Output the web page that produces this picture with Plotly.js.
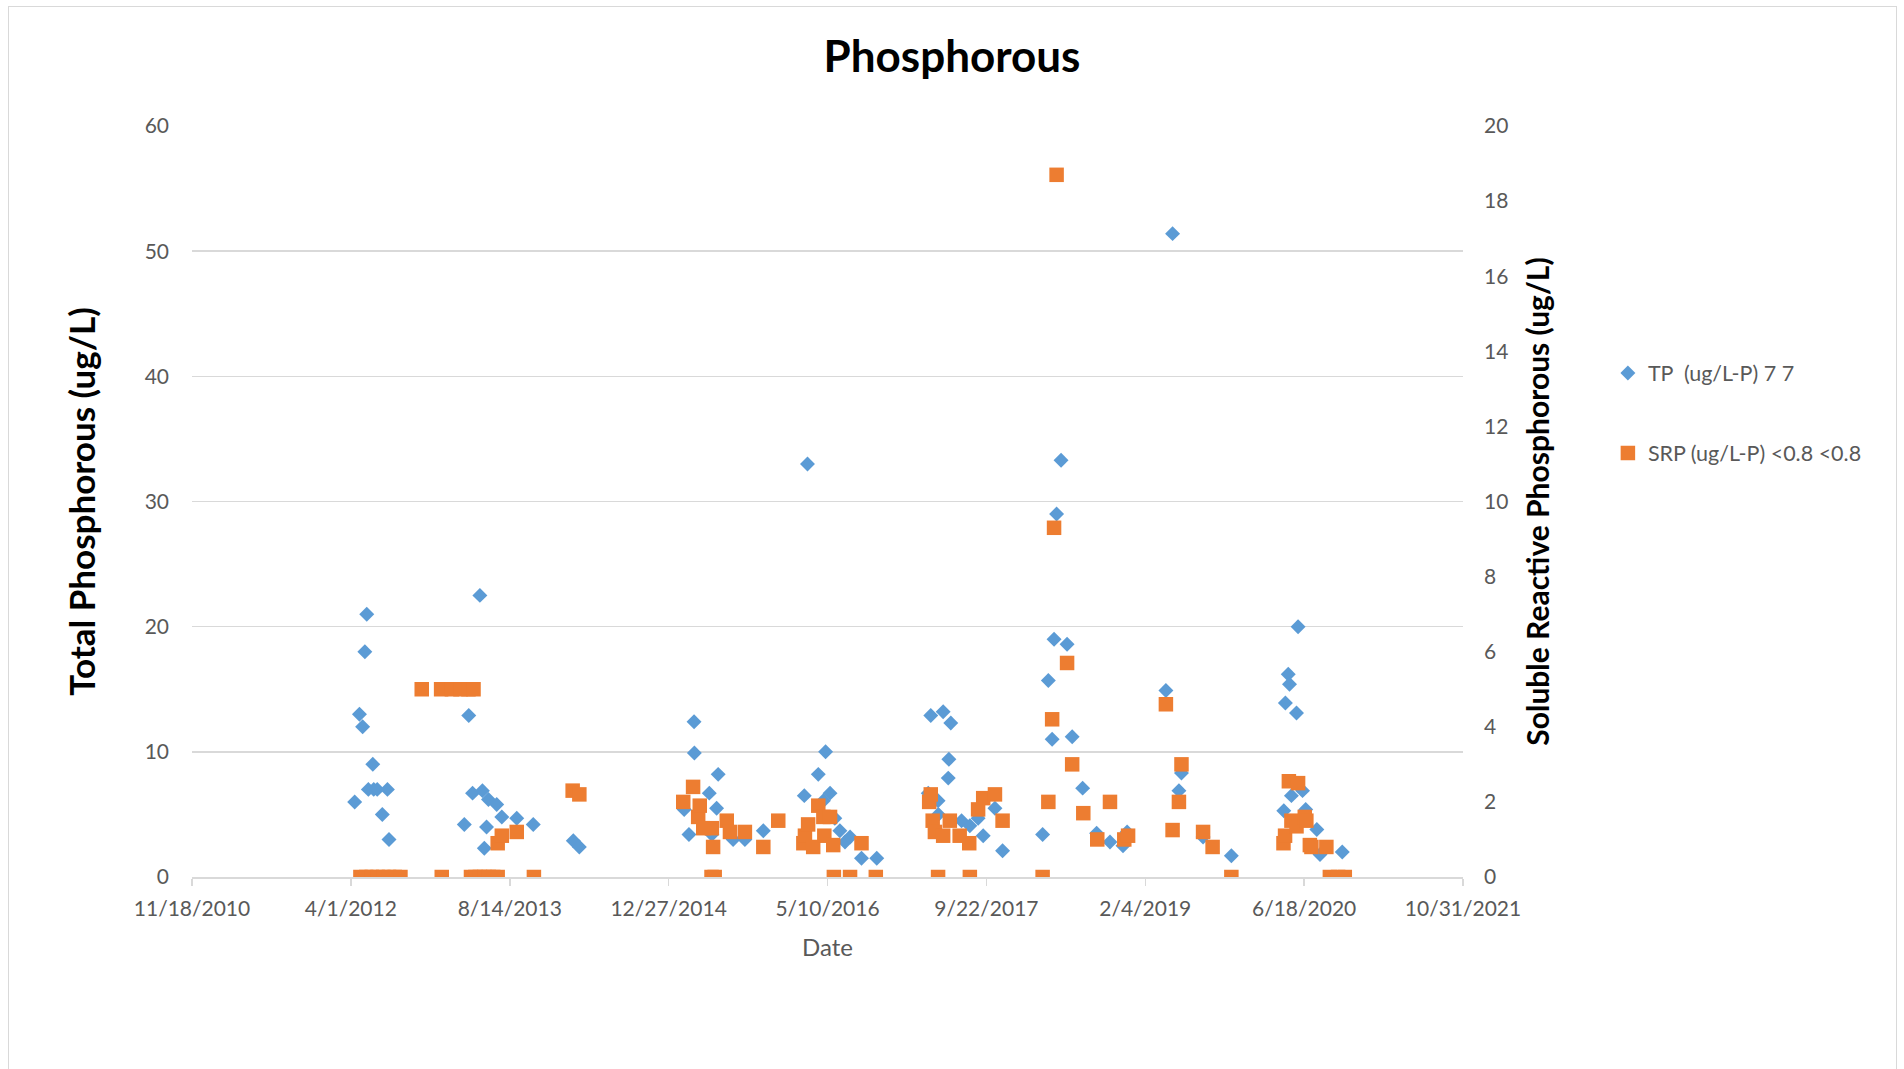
<!DOCTYPE html>
<html>
<head>
<meta charset="utf-8">
<script src="https://cdn.plot.ly/plotly-3.0.1.min.js"></script>
<style>
  html, body { margin: 0; padding: 0; background: #ffffff; }
  #chart { width: 1904px; height: 1069px; }
  #frame { position: absolute; left: 8px; top: 6px; width: 1887px; height: 1080px;
           border: 1px solid #D9D9D9; pointer-events: none; }
</style>
</head>
<body>
<div id="chart"></div>
<div id="frame"></div>
<script>
// Dates are Excel date serial numbers (as on the original Excel chart's date axis)
const tickVals = [40500, 41000, 41500, 42000, 42500, 43000, 43500, 44000, 44500];
const tickLabels = ["11/18/2010", "4/1/2012", "8/14/2013", "12/27/2014", "5/10/2016",
                    "9/22/2017", "2/4/2019", "6/18/2020", "10/31/2021"];
const leftTicks = [0, 10, 20, 30, 40, 50, 60];
const rightTicks = [0, 2, 4, 6, 8, 10, 12, 14, 16, 18, 20];

// Total Phosphorous (ug/L) — left axis
const tpDates = [
  41012, 41027, 41037, 41044, 41050, 41055, 41069, 41072, 41083, 41099, 41115, 41120,
  41357, 41371, 41383, 41406, 41414, 41420, 41427, 41433, 41459, 41475, 41522, 41574, 41700, 41719,
  42049, 42064, 42080, 42081, 42128, 42136, 42151, 42156, 42203, 42240, 42298,
  42427, 42437, 42471, 42487, 42494, 42508, 42523, 42539, 42555, 42571, 42607, 42655,
  42817, 42825, 42848, 42849, 42864, 42880, 42882, 42888, 42922, 42948, 42974, 42990, 43027, 43051,
  43177, 43195, 43207, 43213, 43221, 43235, 43254, 43270, 43303, 43347, 43389, 43430, 43443,
  43565, 43586, 43606, 43614, 43682, 43771,
  43936, 43941, 43950, 43954, 43960, 43976, 43981, 43995, 44005, 44040, 44050, 44120
];
const tpValues = [
  6.0, 13.0, 12.0, 18.0, 21.0, 7.0, 9.0, 7.0, 7.0, 5.0, 7.0, 3.0,
  4.2, 12.9, 6.7, 22.5, 6.9, 2.3, 4.0, 6.2, 5.8, 4.8, 4.7, 4.2, 2.9, 2.4,
  5.4, 3.4, 12.4, 9.9, 6.7, 3.4, 5.5, 8.2, 3.0, 3.0, 3.7,
  6.5, 33.0, 8.2, 6.1, 10.0, 6.7, 4.7, 3.7, 2.8, 3.2, 1.5, 1.5,
  6.7, 12.9, 6.1, 5.0, 13.2, 7.9, 9.4, 12.3, 4.5, 4.1, 4.7, 3.3, 5.5, 2.1,
  3.4, 15.7, 11.0, 19.0, 29.0, 33.3, 18.6, 11.2, 7.1, 3.5, 2.8, 2.5, 3.6,
  14.9, 51.4, 6.9, 8.3, 3.2, 1.7,
  5.3, 13.9, 16.2, 15.4, 6.5, 13.1, 20.0, 6.9, 5.4, 3.8, 1.8, 2.0
];

// Soluble Reactive Phosphorous (ug/L) — right axis
const srpDates = [
  41030, 41048, 41066, 41084, 41102, 41120, 41138, 41156,
  41223, 41284, 41286, 41318, 41345, 41370, 41386,
  41378, 41392, 41406, 41420, 41434, 41448, 41462,
  41462, 41475, 41522, 41576, 41698, 41719,
  42046, 42077, 42093, 42098, 42109, 42136, 42140, 42135, 42145, 42183, 42193, 42240, 42298, 42345,
  42424, 42429, 42439, 42455, 42471, 42487, 42490, 42508, 42518, 42520, 42571, 42607, 42652,
  42820, 42825, 42831, 42838, 42848, 42864, 42885, 42916, 42946, 42948, 42974, 42990, 43027, 43051,
  43177, 43195, 43207, 43213, 43221, 43254, 43270, 43305, 43349, 43389, 43434, 43446,
  43565, 43586, 43606, 43614, 43682, 43712, 43771,
  43935, 43940, 43952, 43960, 43976, 43981, 44002, 44007, 44018, 44023, 44070, 44081, 44107, 44128
];
const srpValues = [
  0, 0, 0, 0, 0, 0, 0, 0,
  5.0, 5.0, 0, 5.0, 5.0, 5.0, 5.0,
  0, 0, 0, 0, 0, 0, 0,
  0.9, 1.1, 1.2, 0, 2.3, 2.2,
  2.0, 2.4, 1.6, 1.9, 1.3, 1.3, 0.8, 0, 0, 1.5, 1.2, 1.2, 0.8, 1.5,
  0.9, 1.1, 1.4, 0.8, 1.9, 1.6, 1.1, 1.6, 0.85, 0, 0, 0.9, 0,
  2.0, 2.2, 1.5, 1.2, 0, 1.1, 1.5, 1.1, 0.9, 0, 1.8, 2.1, 2.2, 1.5,
  0, 2.0, 4.2, 9.3, 18.7, 5.7, 3.0, 1.7, 1.0, 2.0, 1.0, 1.1,
  4.6, 1.25, 2.0, 3.0, 1.2, 0.8, 0,
  0.9, 1.1, 2.55, 1.5, 1.35, 2.5, 1.6, 1.5, 0.85, 0.8, 0.8, 0, 0, 0
];

const FONT = "Lato, 'Open Sans', sans-serif";
const GRAY = "#595959";

const traces = [
  {
    x: tpDates, y: tpValues, type: "scatter", mode: "markers",
    name: "TP \u00A0(ug/L-P) 7 7",
    marker: { symbol: "diamond", size: 11.5, color: "#5B9BD5" },
    yaxis: "y", legend: "legend"
  },
  {
    x: srpDates, y: srpValues, type: "scatter", mode: "markers",
    name: "SRP (ug/L-P) <0.8 <0.8",
    marker: { symbol: "square", size: 14.5, color: "#ED7D31" },
    yaxis: "y2", legend: "legend2"
  }
];

const layout = {
  width: 1904, height: 1069,
  margin: { l: 192, r: 441, t: 126, b: 192 },
  paper_bgcolor: "#ffffff", plot_bgcolor: "#ffffff",
  font: { family: FONT, color: GRAY, size: 21 },
  title: {
    text: "<b>Phosphorous</b>",
    font: { family: FONT, size: 44, color: "#000000" },
    x: 0.5, xref: "container", xanchor: "center",
    y: 1 - 57 / 1069, yref: "container", yanchor: "middle"
  },
  xaxis: {
    range: [40500, 44500],
    tickmode: "array", tickvals: tickVals, ticktext: tickLabels,
    showgrid: false, zeroline: false,
    showline: true, linecolor: "#D9D9D9", linewidth: 1.5,
    ticks: "outside", ticklen: 7, tickcolor: "#D9D9D9", tickwidth: 1.5,
    ticklabelstandoff: 5,
    tickfont: { family: FONT, size: 21, color: GRAY },
    title: { text: "Date", font: { family: FONT, size: 24, color: GRAY }, standoff: 20 }
  },
  yaxis: {
    range: [0, 60], tickmode: "array", tickvals: leftTicks,
    showgrid: true, gridcolor: "#D9D9D9", gridwidth: 1.5,
    zeroline: false, showline: false, ticks: "",
    ticklabelstandoff: 22,
    tickfont: { family: FONT, size: 21, color: GRAY },
    title: { text: "<b>Total Phosphorous (ug/L)</b>", font: { family: FONT, size: 35, color: "#000000" }, standoff: 38 }
  },
  yaxis2: {
    range: [0, 20], tickmode: "array", tickvals: rightTicks,
    overlaying: "y", side: "right",
    showgrid: false, zeroline: false, showline: false, ticks: "",
    ticklabelstandoff: 20,
    tickfont: { family: FONT, size: 21, color: GRAY },
    title: { text: "<b>Soluble Reactive Phosphorous (ug/L)</b>", font: { family: FONT, size: 30, color: "#000000" }, standoff: 20 }
  },
  showlegend: true,
  legend: {
    x: 1.114, xanchor: "left", y: (877 - 373) / 751, yanchor: "middle",
    font: { family: FONT, size: 21.5, color: GRAY }, bgcolor: "rgba(0,0,0,0)"
  },
  legend2: {
    x: 1.114, xanchor: "left", y: (877 - 453) / 751, yanchor: "middle",
    font: { family: FONT, size: 21.5, color: GRAY }, bgcolor: "rgba(0,0,0,0)"
  }
};

Plotly.newPlot("chart", traces, layout, { displayModeBar: false, staticPlot: true });
</script>
</body>
</html>
